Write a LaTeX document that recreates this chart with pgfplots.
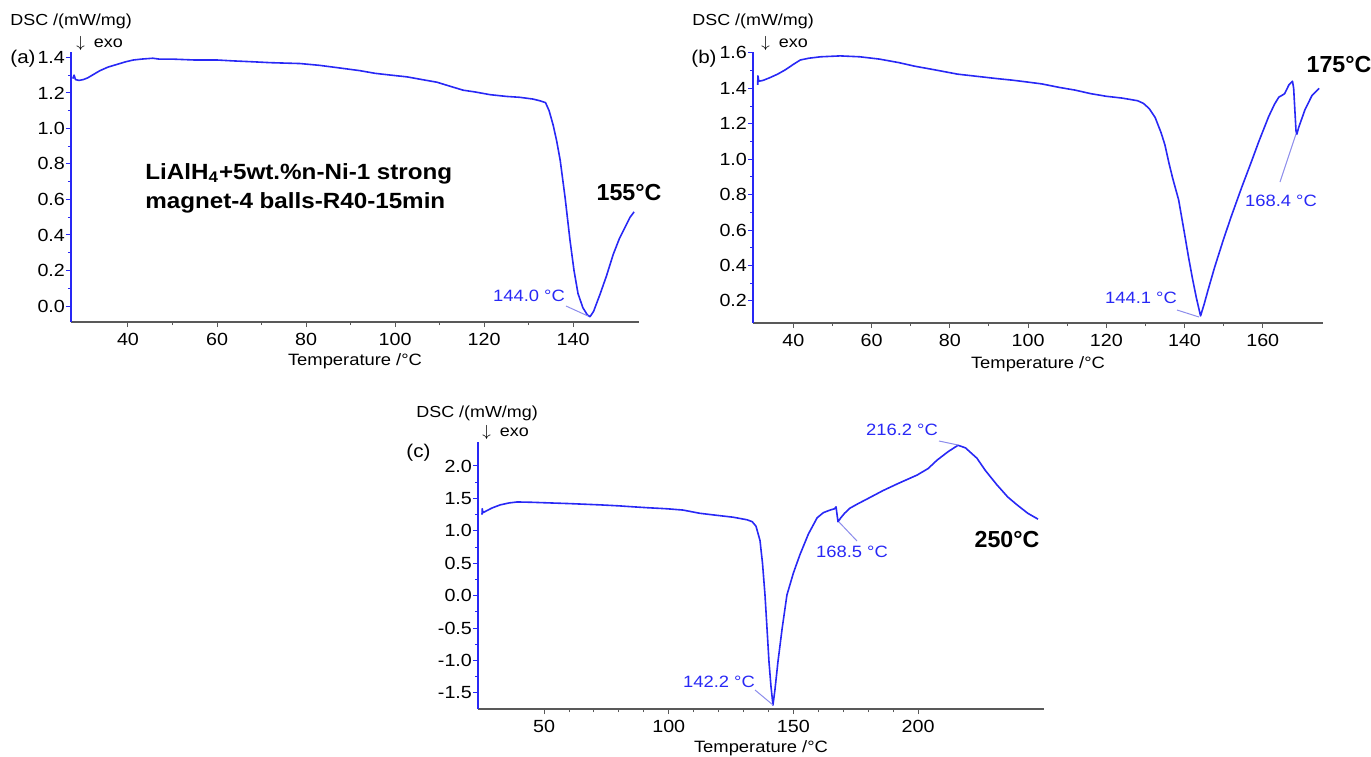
\documentclass[border=0pt]{standalone}
\usepackage{fontspec}
\setmainfont{Liberation Sans}[FakeStretch=1.12]
\newfontfamily\plainf{Liberation Sans}
\usepackage{pgfplots}
\pgfplotsset{compat=1.18}
\definecolor{dscblue}{RGB}{40,40,245}
\definecolor{leadc}{RGB}{140,140,235}
\newcommand\fs[1]{\fontsize{#1}{#1}\selectfont}

\pgfplotsset{dscaxis/.style={
  scale only axis, axis lines*=left, anchor=south west,
  tick align=outside,
  major tick length=2.5pt, minor tick length=1.5pt,
  minor x tick num=1, minor y tick num=1,
  x axis line style={black!65, line width=0.7pt},
  y axis line style={dscblue, line width=0.9pt},
  xtick style={black!65, line width=0.5pt},
  ytick style={dscblue, line width=0.5pt},
  tick label style={font=\fs{8.8}},
  /pgf/number format/assume math mode=true,
  yticklabel style={xshift=3pt, /pgf/number format/.cd, fixed, fixed zerofill, precision=1},
  xticklabel style={yshift=0.5pt},
  xlabel style={at={(axis description cs:0.5,0)}, anchor=center, yshift=-19.5pt, font=\fs{8.2}},
}}
\tikzset{
  curve/.style={dscblue, line width=0.8pt, line join=round},
  big/.style={font=\plainf\bfseries\fs{11.6}, inner sep=0pt},
  val/.style={text=dscblue, font=\fs{8.2}, inner sep=0pt},
  lab/.style={anchor=west, font=\fs{8}, inner sep=0pt},
  pan/.style={anchor=west, font=\fs{9.2}, inner sep=0pt},
  lead/.style={leadc, line width=0.5pt},
}
\newcommand\exo{$\downarrow$\hspace{4.5pt}exo}

\begin{document}
\begin{tikzpicture}
\path[use as bounding box] (0,0) rectangle (685.5pt,-378pt);

% (a)
\begin{axis}[dscaxis, at={(35.5pt,-161pt)}, width=284pt, height=135pt,
  xmin=27.2, xmax=154.8, ymin=-0.09, ymax=1.43,
  xtick={40,60,80,100,120,140}, ytick={0,0.2,0.4,0.6,0.8,1.0,1.2,1.4},
  xlabel={Temperature /°C}]
\addplot[curve] coordinates {
(27.6,1.28)(27.9,1.30)(28.2,1.275)(29,1.27)(30,1.275)(31,1.285)(32,1.30)
(33.7,1.325)(35.5,1.345)(37.5,1.36)(39.5,1.375)(41.2,1.385)(43,1.39)
(45.6,1.395)(47,1.39)(50,1.39)(55,1.385)(60,1.385)(63.6,1.38)(68,1.375)
(72,1.37)(78.7,1.365)(83,1.355)(87.6,1.34)(92.1,1.325)(95.5,1.31)(99,1.30)
(102.7,1.29)(106,1.275)(109.4,1.26)(112,1.24)(115.3,1.215)(118,1.205)
(121.3,1.19)(125,1.18)(128,1.175)(131,1.165)(132.6,1.155)(133.8,1.145)
(134.6,1.10)(135.5,1.02)(136.3,0.93)(137.1,0.82)(138.2,0.61)(139.3,0.37)
(140.2,0.20)(141.1,0.07)(142.2,-0.01)(143.2,-0.05)(143.8,-0.06)(144.6,-0.03)
(146.1,0.07)(147.5,0.17)(149,0.29)(150.4,0.38)(151.7,0.445)(152.8,0.50)(153.7,0.53)};
\end{axis}

% (b)
\begin{axis}[dscaxis, at={(376.5pt,-161.5pt)}, width=285pt, height=135.5pt,
  xmin=29.7, xmax=175.4, ymin=0.075, ymax=1.605,
  xtick={40,60,80,100,120,140,160}, ytick={0.2,0.4,0.6,0.8,1.0,1.2,1.4,1.6},
  xlabel style={yshift=-1pt},
  xlabel={Temperature /°C}]
\addplot[curve] coordinates {
(30.9,1.42)(30.95,1.47)(31.2,1.44)(32.3,1.445)(34,1.46)(36,1.48)(38,1.505)
(40,1.535)(41.8,1.56)(44,1.57)(47,1.578)(52,1.583)(57,1.578)(62,1.565)
(67,1.545)(71,1.525)(76,1.505)(82,1.48)(88,1.465)(92,1.455)(96,1.446)
(100,1.435)(103.5,1.425)(108,1.405)(112,1.39)(116,1.37)(120,1.355)
(124,1.345)(128,1.33)(129.5,1.315)(131,1.285)(132.5,1.235)(134,1.15)
(135,1.08)(136,0.98)(137,0.89)(138.5,0.77)(140,0.58)(141,0.45)(142,0.33)
(143,0.22)(144.1,0.115)(145,0.18)(146,0.26)(147.7,0.39)(150,0.55)(152,0.68)
(154.6,0.84)(157,0.98)(159,1.10)(161.5,1.24)(163,1.31)(164.1,1.35)
(164.9,1.36)(165.6,1.37)(166.7,1.42)(167.6,1.44)(167.9,1.40)(168.2,1.28)
(168.5,1.16)(168.7,1.14)(169.2,1.18)(170,1.23)(170.8,1.28)(172.6,1.36)(174.4,1.40)};
\end{axis}

% (c)
\begin{axis}[dscaxis, at={(239pt,-354.5pt)}, width=283pt, height=133.5pt,
  xmin=23.5, xmax=250.5, ymin=-1.75, ymax=2.37, minor x tick num=4,
  xtick={50,100,150,200}, ytick={-1.5,-1.0,-0.5,0,0.5,1.0,1.5,2.0},
  xlabel={Temperature /°C}]
\addplot[curve] coordinates {
(25.1,1.25)(25.2,1.34)(25.5,1.28)(27,1.31)(29,1.35)(32.4,1.40)(36,1.43)
(39.2,1.445)(45,1.44)(52.4,1.43)(60,1.42)(72.5,1.40)(80,1.385)(85.7,1.37)
(92,1.355)(99.3,1.34)(105.7,1.32)(112.5,1.27)(119,1.24)(125.8,1.21)
(131.4,1.17)(133.5,1.14)(135,1.07)(136.6,0.85)(137.6,0.50)(138.6,0.01)
(139.4,-0.50)(140.2,-1.02)(141,-1.40)(141.8,-1.69)(142.6,-1.45)(143.8,-1.02)
(145.5,-0.50)(147.4,0.01)(150,0.35)(152.6,0.63)(156,0.95)(159.5,1.20)
(162,1.28)(164.7,1.32)(166.5,1.34)(167.1,1.37)(167.6,1.22)(167.9,1.14)
(169,1.20)(170.5,1.27)(172.7,1.35)(176,1.42)(180,1.50)(185.9,1.62)
(192,1.73)(199.6,1.86)(204,1.96)(207.6,2.09)(212,2.22)(216,2.32)(219,2.28)
(223.6,2.12)(227,1.93)(231.6,1.71)(236,1.52)(239.7,1.40)(244,1.27)(248.1,1.18)};
\end{axis}

\begin{scope}[x=0.5pt, y=-0.5pt]
% (a)
\node[lab] at (10,21) {DSC /(mW/mg)};
\node[lab] at (76,43) {\exo};
\node[pan] at (10,59) {(a)};
\node[anchor=west, align=left, inner sep=0pt, font=\plainf\bfseries\fontsize{11}{14.5}\selectfont]
  at (145,188) {\addfontfeature{FakeStretch=1.1}LiAlH\textsubscript{4}+5wt.\%n-Ni-1 strong\\\addfontfeature{FakeStretch=1.1}magnet-4 balls-R40-15min};
\node[big] at (629,193) {155°C};
\node[val] at (529,296) {144.0 °C};
\draw[lead] (566,306) -- (588,316);
% (b)
\node[lab] at (692,21) {DSC /(mW/mg)};
\node[lab] at (761,43) {\exo};
\node[pan] at (691,59) {(b)};
\node[big] at (1339,65) {175°C};
\node[val] at (1141,298) {144.1 °C};
\draw[lead] (1177,310) -- (1199,317);
\node[val] at (1281,201) {168.4 °C};
\draw[lead] (1280,182) -- (1296,134);
% (c)
\node[lab] at (416,413) {DSC /(mW/mg)};
\node[lab] at (482,432) {\exo};
\node[pan] at (406,453) {(c)};
\node[val] at (719,682) {142.2 °C};
\draw[lead] (755,690) -- (773,705);
\node[val] at (852,552) {168.5 °C};
\draw[lead] (839,522) -- (857,541);
\node[val] at (902,430) {216.2 °C};
\draw[lead] (939,441) -- (958,445);
\node[big] at (1007,540) {250°C};
\end{scope}
\end{tikzpicture}
\end{document}
